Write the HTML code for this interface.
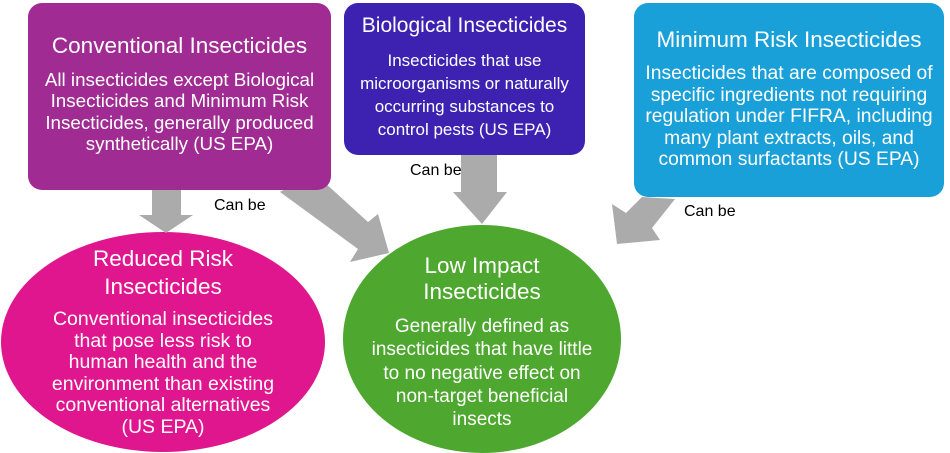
<!DOCTYPE html>
<html><head><style>
body{margin:0;width:950px;height:453px;background:#fff;position:relative;overflow:hidden;font-family:"Liberation Sans",sans-serif;}
.b{position:absolute;border-radius:14px;}
.x{position:absolute;color:#fff;text-align:center;white-space:nowrap;}
.t{font-size:22.5px;line-height:26px;}
.d{font-size:18.8px;}
.l{position:absolute;font-size:16px;color:#000;}
</style></head><body>
<svg width="950" height="453" style="position:absolute;left:0;top:0">
<ellipse cx="163" cy="342" rx="162" ry="110" fill="#e0168f"/>
<ellipse cx="482" cy="339" rx="139" ry="114" fill="#4ea72e"/>
<g fill="#ababab">
<polygon points="152,190 181,190 181,215 193,215 166,233 139,215 152,215"/>
<polygon points="280,192 313,172 368,222 378,214 389,253 350,262 358,249"/>
<polygon points="461,150 497,150 497,192 507,192 482,224 453,192 461,192"/>
<polygon points="642,197 675,199 652,228 660,240 617,244 612,204 626,213"/>
</g>
</svg>
<div class="b" style="left:28px;top:3px;width:303px;height:187px;background:#a02b93"></div>
<div class="b" style="left:344px;top:3px;width:241px;height:152px;background:#3d22b2"></div>
<div class="b" style="left:634px;top:3px;width:310px;height:194px;background:#1aa0d8"></div>

<div class="x t" style="left:28px;width:303px;top:33px">Conventional Insecticides</div>
<div class="x d" style="left:28px;width:303px;top:69px;line-height:21.3px">All insecticides except Biological<br>Insecticides and Minimum Risk<br>Insecticides, generally produced<br>synthetically (US EPA)</div>

<div class="x t" style="left:344px;width:241px;top:13px;font-size:21px">Biological Insecticides</div>
<div class="x d" style="left:344px;width:241px;top:49px;line-height:23px;font-size:17px">Insecticides that use<br>microorganisms or naturally<br>occurring substances to<br>control pests (US EPA)</div>

<div class="x t" style="left:634px;width:310px;top:27px">Minimum Risk Insecticides</div>
<div class="x d" style="left:634px;width:310px;top:63px;line-height:21.5px;font-size:19.3px">Insecticides that are composed of<br>specific ingredients not requiring<br>regulation under FIFRA, including<br>many plant extracts, oils, and<br>common surfactants (US EPA)</div>

<div class="x t" style="left:13px;width:300px;top:245px;line-height:28px">Reduced Risk<br>Insecticides</div>
<div class="x d" style="left:13px;width:300px;top:309px;line-height:21.6px;font-size:19.5px">Conventional insecticides<br>that pose less risk to<br>human health and the<br>environment than existing<br>conventional alternatives<br>(US EPA)</div>

<div class="x t" style="left:342px;width:280px;top:253px">Low Impact<br>Insecticides</div>
<div class="x d" style="left:342px;width:280px;top:315px;line-height:23.3px;font-size:19px">Generally defined as<br>insecticides that have little<br>to no negative effect on<br>non-target beneficial<br>insects</div>

<div class="l" style="left:214px;top:197px">Can be</div>
<div class="l" style="left:410px;top:162px">Can be</div>
<div class="l" style="left:684px;top:203px">Can be</div>
</body></html>
